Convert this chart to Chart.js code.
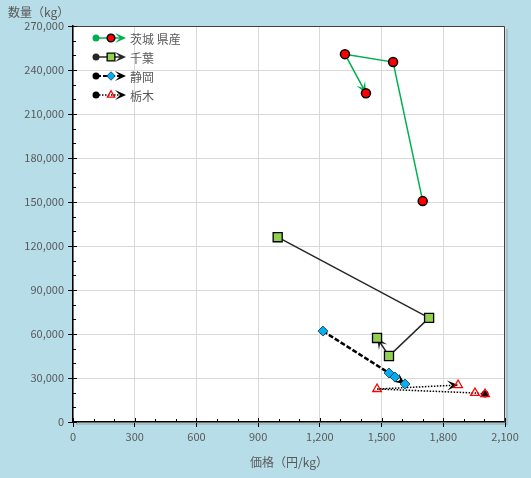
<!DOCTYPE html>
<html>
<head>
<meta charset="utf-8">
<script src="https://cdn.jsdelivr.net/npm/chart.js@4/dist/chart.umd.min.js"></script>
<style>
  body { margin: 0; background: #b7dde8; }
  #wrap { width: 531px; height: 478px; }
</style>
</head>
<body>
<div id="wrap"><canvas id="chart" width="531" height="478"></canvas></div>
<script>
// price (yen/kg) and quantity (kg) per prefecture, in path order
const seriesNames = ['茨城 県産', '千葉', '静岡', '栃木'];
const ibarakiPrice = [1700, 1556, 1322, 1424];
const ibarakiQty = [150600, 245400, 250800, 224200];
const chibaPrice = [995, 1731, 1536, 1478];
const chibaQty = [126000, 71000, 45000, 57300];
const shizuokaPrice = [1215, 1536, 1565, 1614];
const shizuokaQty = [62000, 33400, 30700, 25900];
const tochigiPrice = [2003, 1954, 1478, 1872];
const tochigiQty = [19100, 19800, 22500, 25200];

const xTitle = '価格（円/kg）';
const yTitle = '数量（kg）';
const FONT = "'Noto Sans CJK JP', 'Noto Sans', sans-serif";
const TEXT = '#595959';

function toPoints(xs, ys) {
  return xs.map((x, i) => ({ x: x, y: ys[i] }));
}

function drawArrow(ctx, ax, ay, bx, by, color) {
  const ang = Math.atan2(by - ay, bx - ax);
  const len = 11, half = 5, notch = 6;
  ctx.save();
  ctx.translate(bx, by);
  ctx.rotate(ang);
  ctx.fillStyle = color;
  ctx.beginPath();
  ctx.moveTo(0, 0);
  ctx.lineTo(-len, -half);
  ctx.lineTo(-notch, 0);
  ctx.lineTo(-len, half);
  ctx.closePath();
  ctx.fill();
  ctx.restore();
}

// start dots and end arrows, drawn under the markers
const arrowPlugin = {
  id: 'arrows',
  beforeDatasetsDraw(chart) {
    const ctx = chart.ctx;
    chart.data.datasets.forEach((ds, i) => {
      const pts = chart.getDatasetMeta(i).data;
      const a = pts[pts.length - 2], b = pts[pts.length - 1];
      drawArrow(ctx, a.x, a.y, b.x, b.y, ds.borderColor);
      ctx.save();
      ctx.fillStyle = ds.borderColor;
      ctx.beginPath();
      ctx.arc(pts[0].x, pts[0].y, 3.5, 0, Math.PI * 2);
      ctx.fill();
      ctx.restore();
    });
  }
};

const framePlugin = {
  id: 'frame',
  beforeDraw(chart) {
    const { ctx, chartArea: ca } = chart;
    ctx.save();
    ctx.fillStyle = '#b7dde8';
    ctx.fillRect(0, 0, chart.width, chart.height);
    // soft shadow
    ctx.fillStyle = 'rgba(0,0,0,0.12)';
    ctx.fillRect(ca.left + 3, ca.top + 3, ca.right - ca.left, ca.bottom - ca.top);
    ctx.fillStyle = '#ffffff';
    ctx.fillRect(ca.left, ca.top, ca.right - ca.left, ca.bottom - ca.top);
    ctx.restore();
  },
  afterDraw(chart) {
    const { ctx, chartArea: ca, scales } = chart;
    const xs = scales.x, ys = scales.y;
    ctx.save();
    // top/right border
    ctx.strokeStyle = '#404040';
    ctx.lineWidth = 1;
    ctx.beginPath();
    ctx.moveTo(ca.left, ca.top + 0.5);
    ctx.lineTo(ca.right - 0.5, ca.top + 0.5);
    ctx.lineTo(ca.right - 0.5, ca.bottom);
    ctx.stroke();

    // minor ticks inside, major ticks crossing inside too
    ctx.strokeStyle = '#000';
    ctx.lineWidth = 1;
    ctx.beginPath();
    for (let v = 0; v <= 2100; v += 100) {
      const px = Math.round(xs.getPixelForValue(v)) + 0.5;
      const l = v % 300 === 0 ? 4 : 3;
      ctx.moveTo(px, ca.bottom);
      ctx.lineTo(px, ca.bottom - l);
    }
    for (let v = 0; v <= 270000; v += 10000) {
      const py = Math.round(ys.getPixelForValue(v)) + 0.5;
      const l = v % 30000 === 0 ? 4 : 3;
      ctx.moveTo(ca.left, py);
      ctx.lineTo(ca.left + l, py);
    }
    ctx.stroke();

    // y-axis title, horizontal at the top left
    ctx.fillStyle = TEXT;
    ctx.font = '12px ' + FONT;
    ctx.textBaseline = 'middle';
    ctx.textAlign = 'left';
    ctx.fillText(yTitle, 8, 12);

    // legend
    const rowY = [38, 57, 76, 95];
    chart.data.datasets.forEach((ds, i) => {
      const y = rowY[i];
      ctx.save();
      ctx.strokeStyle = ds.borderColor;
      ctx.lineWidth = Math.min(ds.borderWidth, 2);
      ctx.setLineDash(ds.borderDash || []);
      ctx.beginPath();
      ctx.moveTo(96, y);
      ctx.lineTo(122, y);
      ctx.stroke();
      ctx.setLineDash([]);
      ctx.fillStyle = ds.borderColor;
      ctx.beginPath();
      ctx.arc(96, y, 3.5, 0, Math.PI * 2);
      ctx.fill();
      drawArrow(ctx, 110, y, 126, y, ds.borderColor);
      ctx.fillStyle = ds.pointBackgroundColor;
      ctx.strokeStyle = ds.pointBorderColor;
      ctx.lineWidth = ds.pointBorderWidth;
      Chart.helpers.drawPoint(ctx, {
        pointStyle: ds.pointStyle,
        radius: ds.pointRadius * 0.85,
        rotation: 0,
        borderWidth: ds.pointBorderWidth
      }, 111, y);
      ctx.restore();
      ctx.fillStyle = TEXT;
      ctx.font = '12px ' + FONT;
      ctx.textBaseline = 'middle';
      ctx.fillText(ds.label, 130, y + 1);
    });
    ctx.restore();
  }
};

const datasets = [
  {
    label: seriesNames[0],
    data: toPoints(ibarakiPrice, ibarakiQty),
    borderColor: '#00b050',
    borderWidth: 1.5,
    pointStyle: 'circle',
    pointRadius: 4.5,
    pointBackgroundColor: '#ff0000',
    pointBorderColor: '#000000',
    pointBorderWidth: 1.5
  },
  {
    label: seriesNames[1],
    data: toPoints(chibaPrice, chibaQty),
    borderColor: '#262626',
    borderWidth: 1.5,
    pointStyle: 'rect',
    pointRadius: 6.4,
    pointBackgroundColor: '#92d050',
    pointBorderColor: '#000000',
    pointBorderWidth: 1.3
  },
  {
    label: seriesNames[2],
    data: toPoints(shizuokaPrice, shizuokaQty),
    borderColor: '#000000',
    borderWidth: 2.5,
    borderDash: [5, 2],
    pointStyle: 'rectRot',
    pointRadius: 5,
    pointBackgroundColor: '#00b0f0',
    pointBorderColor: '#1f3050',
    pointBorderWidth: 0.8
  },
  {
    label: seriesNames[3],
    data: toPoints(tochigiPrice, tochigiQty),
    borderColor: '#000000',
    borderWidth: 1.5,
    borderDash: [1.5, 1.5],
    pointStyle: 'triangle',
    pointRadius: 5,
    pointBackgroundColor: 'rgba(255,255,255,0)',
    pointBorderColor: '#ff0000',
    pointBorderWidth: 1.3
  }
];

const numFmt = v => Number(v).toLocaleString('en-US');

new Chart(document.getElementById('chart'), {
  type: 'scatter',
  data: { datasets: datasets.map(d => Object.assign({ showLine: true, tension: 0, fill: false }, d)) },
  options: {
    responsive: false,
    animation: false,
    devicePixelRatio: 1,
    layout: { padding: { left: 0, right: 26, top: 26, bottom: 0 } },
    plugins: { legend: { display: false }, tooltip: { enabled: false } },
    scales: {
      x: {
        type: 'linear',
        min: 0,
        max: 2100,
        afterFit: s => { s.height = 56; },
        ticks: { stepSize: 300, color: TEXT, font: { family: FONT, size: 11 }, padding: 3, callback: numFmt, maxRotation: 0 },
        grid: { color: '#d9d9d9', tickColor: '#000', tickLength: 5, lineWidth: 1 },
        border: { display: true, color: '#000', width: 1.5 },
        title: { display: true, text: xTitle, color: TEXT, font: { family: FONT, size: 12 }, padding: { top: 0, bottom: 8 } }
      },
      y: {
        type: 'linear',
        min: 0,
        max: 270000,
        afterFit: s => { s.width = 73; },
        ticks: { stepSize: 30000, color: TEXT, font: { family: FONT, size: 11 }, padding: 4, callback: numFmt },
        grid: { color: '#d9d9d9', tickColor: '#000', tickLength: 5, lineWidth: 1 },
        border: { display: true, color: '#000', width: 1.5 }
      }
    }
  },
  plugins: [framePlugin, arrowPlugin]
});
</script>
</body>
</html>
